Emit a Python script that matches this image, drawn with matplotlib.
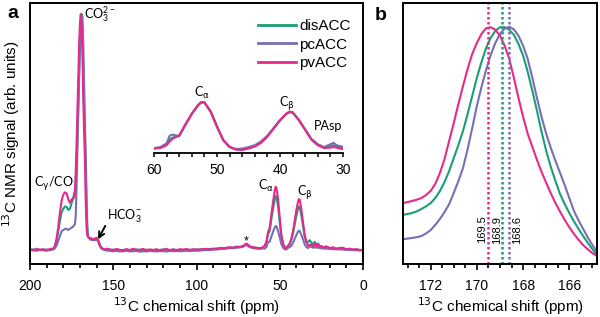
import matplotlib
matplotlib.use("Agg")
import matplotlib.pyplot as plt
from matplotlib.ticker import MultipleLocator

plt.rcParams['font.family'] = ['Liberation Sans', 'DejaVu Sans']
plt.rcParams['mathtext.fontset'] = 'dejavusans'

# ---------------- data: panel a (full 13C spectrum) ----------------
shift = [200, 198, 196, 194, 192, 190, 188, 186,
         185, 184, 183, 182, 181, 180, 179, 178, 177, 176, 175, 174,
         173.5, 173, 172.5, 172, 171.5, 171, 170.5, 170, 169.5, 169, 168.5, 168,
         167.5, 167, 166.5, 166, 165.5, 165,
         164, 163, 162, 161, 160, 159, 158, 157, 156, 155, 154,
         152, 150, 148, 146, 144, 142, 140, 138, 136, 134, 132, 130, 128,
         126, 124, 122, 120, 118, 116, 114, 112, 110, 108, 106, 104, 102,
         100, 98, 96, 94, 92, 90, 88, 86, 84, 82, 80, 78, 76, 74, 72, 70,
         68, 66, 64, 62, 60,
         59, 58, 57, 56, 55, 54, 53, 52.5, 52, 51, 50, 49, 48, 47, 46, 45, 44,
         43, 42, 41, 40, 39, 38.5, 38, 37, 36, 35, 34, 33, 32, 31, 30,
         29, 28, 27, 26, 25, 24, 22, 20, 18, 16, 14, 12, 10, 8, 6, 4, 2, 0]

disACC = [0.1, 0.3, -0.1, 0.2, 0.0, 0.3, -0.1, 0.4,
          1.5, 4, 8, 12.5, 16, 17.5, 18.5, 18.3, 17, 17.5, 20, 22,
          24, 25.5, 30, 38, 49, 63, 78, 90, 98, 100, 92, 78,
          60, 46, 32, 15, 7, 5.5,
          5, 4.9, 4.7, 4.8, 5, 4, 2, 1, 0.4, 0.3, 0.2,
          0.1, 0.2, 0.0, -0.2, 0.1, 0.2, -0.1, 0.1, 0.3, 0.0, -0.1, 0.2, 0.0,
          0.1, -0.2, 0.1, 0.2, 0.0, -0.1, 0.2, 0.1, 0.0, 0.2, -0.1, 0.1, 0.2,
          0.2, 0.3, 0.4, 0.3, 0.5, 0.5, 0.6, 0.7, 0.8, 0.9, 1.0, 1.1, 1.3, 1.3, 1.6, 2.5,
          1.5, 1.1, 0.9, 0.8, 1.0,
          1.8, 3.2, 6.7, 8.2, 13.3, 17.6, 21.6, 22.9, 22.7, 18.5, 11.7, 5.6, 2.5, 1.0, 1.0, 1.8, 2.5,
          4.3, 7.1, 10.9, 14.6, 17.6, 18.5, 18.3, 14.6, 10.2, 5.6, 3.2, 3.5, 4.2, 3.2, 2.5,
          3.5, 2.2, 2.8, 1.5, 1.4, 1.2, 1.3, 0.9, 0.8, 0.7, 0.6, 0.5, 0.4, 0.3, 0.2, 0.3, 0.1, 0.0]

pcACC = [0.0, 0.1, -0.3, 0.2, -0.2, 0.0, 0.1, 0.3,
         0.8, 2, 4, 6, 8, 8.5, 9, 9, 8.5, 9, 9.5, 10,
         10.5, 11, 15, 28, 43, 57, 72, 85, 95, 99, 99, 88,
         70, 54, 40, 22, 9, 5.5,
         4.5, 4.3, 4.2, 4.2, 4.5, 3.5, 1.6, 0.6, 0.2, 0.0, -0.2,
         -0.3, -0.5, -0.4, -0.6, -0.5, -0.3, -0.6, -0.5, -0.4, -0.7, -0.5, -0.6, -0.4,
         -0.5, -0.6, -0.4, -0.5, -0.6, -0.4, -0.5, -0.3, -0.5, -0.4, -0.3, -0.4, -0.3,
         -0.3, -0.2, -0.1, 0.0, 0.0, 0.2, 0.2, 0.4, 0.5, 0.6, 0.8, 0.8, 1.0, 1.1, 1.4, 2.2,
         1.2, 0.8, 0.6, 0.5, 0.7,
         0.6, 1.3, 3.4, 3.6, 5.8, 7.8, 9.6, 10.2, 10.1, 8.2, 5.2, 2.4, 1.0, 0.3, 0.3, 0.9, 1.3,
         1.8, 3.1, 4.8, 6.4, 7.8, 8.2, 8.1, 6.4, 4.5, 2.4, 1.3, 0.8, 1.7, 1.3, 1.0,
         1.2, 1.0, 1.1, 0.8, 0.8, 0.7, 0.6, 0.5, 0.4, 0.3, 0.3, 0.2, 0.1, 0.0, 0.0, -0.1, -0.1, -0.2]

pvACC = [0.3, -0.2, 0.6, 0.0, 0.4, -0.3, 0.5, 0.6,
         2, 5, 10, 16, 21, 23.5, 24.5, 24, 21.5, 20, 21.5, 22,
         22.5, 24, 34, 46, 60, 74, 87, 96, 100, 95, 82, 64,
         50, 38, 20, 9, 6, 5.5,
         5, 4.8, 4.6, 4.8, 5.2, 4, 2, 0.8, 0.5, 0.2, 0.6,
         0.3, -0.2, 0.5, 0.1, -0.3, 0.4, 0.0, 0.6, -0.1, 0.2, 0.5, -0.2, 0.3,
         0.0, 0.4, -0.3, 0.2, 0.5, 0.0, 0.3, -0.2, 0.4, 0.1, 0.5, 0.0, 0.3,
         0.3, 0.1, 0.5, 0.4, 0.2, 0.6, 0.5, 0.9, 0.7, 1.0, 1.2, 0.9, 1.5, 1.3, 1.8, 2.8,
         1.6, 1.2, 1.0, 0.8, 1.2,
         1.9, 3.6, 7.7, 9.5, 15.4, 20.6, 25.3, 26.8, 26.5, 21.6, 13.6, 6.4, 2.8, 1.0, 1.0, 1.9, 2.8,
         4.9, 8.2, 12.6, 17.0, 20.6, 21.6, 21.4, 17.0, 11.8, 6.4, 3.6, 1.9, 2.3, 2.3, 1.4,
         2.8, 1.6, 2.6, 1.2, 1.8, 1.0, 1.6, 0.8, 1.2, 0.5, 0.9, 1.0, 0.3, 0.6, 0.2, 0.4, -0.1, 0.2]

# ---------------- data: inset (normalised aliphatic region) ----------------
inset_shift = [60, 59, 58, 57.5, 57, 56, 55, 54, 53, 52.5, 52, 51, 50, 49, 48, 47, 46, 45, 44,
               43, 42, 41, 40, 39, 38.5, 38, 37, 36, 35, 34, 33, 32, 31.5, 31, 30.5, 30]
inset_dis = [0.03, 0.05, 0.11, 0.22, 0.26, 0.30, 0.53, 0.75, 0.93, 0.99, 0.99, 0.80, 0.49, 0.20, 0.06, 0.01, 0.01, 0.04, 0.08,
             0.16, 0.29, 0.45, 0.62, 0.75, 0.79, 0.78, 0.62, 0.42, 0.22, 0.11, 0.05, 0.08, 0.10, 0.07, 0.05, 0.03]
inset_pc = [0.04, 0.06, 0.14, 0.30, 0.32, 0.29, 0.52, 0.75, 0.93, 0.99, 0.99, 0.80, 0.48, 0.20, 0.06, 0.02, 0.03, 0.06, 0.10,
            0.18, 0.30, 0.46, 0.62, 0.75, 0.79, 0.78, 0.63, 0.43, 0.23, 0.12, 0.06, 0.12, 0.15, 0.10, 0.08, 0.07]
inset_pv = [0.035, 0.04, 0.10, 0.18, 0.24, 0.30, 0.54, 0.76, 0.94, 1.0, 0.99, 0.80, 0.49, 0.21, 0.07, 0.01, 0.0, 0.03, 0.07,
            0.15, 0.28, 0.45, 0.62, 0.76, 0.80, 0.79, 0.62, 0.42, 0.21, 0.10, 0.04, 0.05, 0.06, 0.05, 0.03, 0.02]

# ---------------- data: panel b (carbonate peak, normalised) ----------------
shift_b = [173.2, 173.0, 172.8, 172.6, 172.4, 172.2, 172.0,
           171.8, 171.6, 171.4, 171.2, 171.0, 170.8, 170.6, 170.4, 170.2, 170.0,
           169.8, 169.6, 169.4, 169.2, 169.0, 168.8, 168.6, 168.4, 168.2, 168.0,
           167.8, 167.6, 167.4, 167.2, 167.0, 166.8, 166.6, 166.4, 166.2, 166.0,
           165.8, 165.6, 165.4, 165.2, 165.0, 164.8]
b_dis = [20.7, 21.1, 21.5, 22.2, 23.2, 24.3, 25.7,
         27.8, 30.8, 34.6, 39.2, 44.7, 50.2, 56.1, 63.3, 70.9, 78.5,
         85.2, 91.1, 95.4, 98.3, 99.8, 99.8, 98.7, 96.6, 92.8, 87.8,
         81.0, 73.0, 64.6, 55.7, 47.7, 40.9, 35.0, 29.5, 25.3, 21.5,
         18.0, 14.8, 11.8, 8.9, 6.3, 3.8]
b_pc = [10.5, 10.7, 11.0, 11.3, 11.8, 12.9, 14.3,
        16.5, 19.0, 21.9, 25.3, 30.0, 35.0, 40.5, 48.5, 57.4, 66.7,
        74.7, 81.9, 88.2, 93.2, 97.0, 99.2, 100.0, 98.9, 96.2, 92.0,
        86.5, 78.5, 70.0, 62.0, 54.9, 48.9, 43.5, 38.4, 33.3, 27.8,
        22.4, 18.4, 14.8, 11.2, 8.0, 5.1]
b_pv = [25.7, 26.1, 26.6, 27.1, 27.8, 29.1, 30.8,
        33.8, 38.4, 44.3, 51.9, 59.5, 67.5, 75.1, 82.3, 88.6, 93.2,
        97.0, 99.4, 99.8, 98.7, 96.2, 92.0, 86.5, 78.5, 70.0, 62.0,
        54.9, 49.4, 43.9, 38.8, 34.2, 29.8, 25.7, 22.1, 18.6, 15.5,
        12.7, 10.2, 8.0, 6.2, 4.6, 3.4]
peak_pos = [168.9, 168.6, 169.5]          # disACC, pcACC, pvACC
peak_labels = ["168.9", "168.6", "169.5"]

names = ["disACC", "pcACC", "pvACC"]
colors = ["#1b9e77", "#7570b3", "#e7298a"]

# ---------------- figure ----------------
W, H = 600, 317
fig = plt.figure(figsize=(W / 100, H / 100), dpi=100)

def fbox(x0, y0, x1, y1):
    return [x0 / W, 1 - y1 / H, (x1 - x0) / W, (y1 - y0) / H]

SPW = 1.4
ann_font = dict(family=['Lato', 'DejaVu Sans'], fontsize=9)

# panel a
axa = fig.add_axes(fbox(30, 3, 363, 264))
for s, c, n in zip([disACC, pcACC, pvACC], colors, names):
    axa.plot(shift, s, color=c, lw=1.5, label=n)
axa.set_xlim(200, 0)
axa.set_ylim(-5.9, 104.7)
axa.set_yticks([])
axa.xaxis.set_major_locator(MultipleLocator(50))
axa.xaxis.set_minor_locator(MultipleLocator(10))
axa.tick_params(axis='x', which='major', direction='out', length=4, width=1.2, labelsize=10, pad=6.5)
axa.tick_params(axis='x', which='minor', direction='out', length=3, width=1.2)
for sp in axa.spines.values():
    sp.set_linewidth(SPW)
axa.set_xlabel("$^{13}$C chemical shift (ppm)", fontsize=11, labelpad=2)
axa.set_ylabel("$^{13}$C NMR signal (arb. units)", fontsize=11, labelpad=6)

leg = axa.legend(loc='upper left', bbox_to_anchor=(258 / W, 1 - 19 / H),
                 bbox_transform=fig.transFigure, frameon=False, fontsize=11,
                 handlelength=2.5, handletextpad=0.2, labelspacing=0.3,
                 borderpad=0, borderaxespad=0)
for l in leg.get_lines():
    l.set_linewidth(2)

axa.text(167.6, 98.3, r"CO$_\mathregular{3}^\mathregular{2-}$", ha='left', va='baseline', **ann_font)
axa.text(186, 26.8, r"C$_{\mathrm{\gamma}}$/CO", ha='center', va='baseline', **ann_font)
axa.text(153.6, 13.0, r"HCO$_\mathregular{3}^\mathregular{-}$", ha='left', va='baseline', **ann_font)
axa.annotate("", xy=(159.9, 3.5), xytext=(154.0, 11.3),
             arrowprops=dict(arrowstyle='->', color='black', lw=1.4, mutation_scale=10))
axa.text(70.3, 2.5, "*", ha='center', va='baseline', fontsize=9)
axa.text(58.1, 25.4, r"C$_{\mathrm{\alpha}}$", ha='center', va='baseline', **ann_font)
axa.text(34.8, 22.9, r"C$_{\mathrm{\beta}}$", ha='center', va='baseline', **ann_font)

# inset
axi = fig.add_axes(fbox(154, 90, 343, 153))
axi.patch.set_alpha(0)
for s, c in zip([inset_dis, inset_pc, inset_pv], colors):
    axi.plot(inset_shift, s, color=c, lw=1.5)
axi.set_xlim(60, 30)
axi.set_ylim(-0.0625, 1.25)
axi.set_yticks([])
for k in ['left', 'right', 'top']:
    axi.spines[k].set_visible(False)
axi.spines['bottom'].set_linewidth(1.3)
axi.xaxis.set_major_locator(MultipleLocator(10))
axi.xaxis.set_minor_locator(MultipleLocator(2))
axi.tick_params(axis='x', which='both', direction='out', length=3, width=1.1, labelsize=10, pad=4)
axi.text(52.4, 1.10, r"C$_{\mathrm{\alpha}}$", ha='center', va='baseline', **ann_font)
axi.text(38.9, 0.90, r"C$_{\mathrm{\beta}}$", ha='center', va='baseline', **ann_font)
axi.text(32.4, 0.42, "PAsp", ha='center', va='baseline', **ann_font)

# panel b
axb = fig.add_axes(fbox(403, 3, 597, 264))
for s, c in zip([b_dis, b_pc, b_pv], colors):
    axb.plot(shift_b, s, color=c, lw=1.5)
for p, c in zip(peak_pos, colors):
    axb.axvline(p, color=c, lw=1.8, linestyle=(0, (1, 1)))
axb.set_xlim(173.2, 164.8)
axb.set_ylim(0, 110)
axb.set_yticks([])
axb.xaxis.set_major_locator(MultipleLocator(2))
axb.xaxis.set_minor_locator(MultipleLocator(0.5))
axb.tick_params(axis='x', which='major', direction='out', length=4, width=1.2, labelsize=10, pad=6.5)
axb.tick_params(axis='x', which='minor', direction='out', length=3, width=1.2)
for sp in axb.spines.values():
    sp.set_linewidth(SPW)
axb.set_xlabel("$^{13}$C chemical shift (ppm)", fontsize=11, labelpad=2)
label_x = [169.13, 168.27, 169.78]
for lx, t in zip(label_x, peak_labels):
    axb.text(lx, 14.5, t, rotation=90, ha='center', va='center', fontsize=8)

fig.text(13 / W, 1 - 14 / H, "a", fontsize=14, fontweight='bold', ha='center', va='center')
fig.text(381 / W, 1 - 15 / H, "b", fontsize=14, fontweight='bold', ha='center', va='center')

fig.savefig("out.png", dpi=100)
